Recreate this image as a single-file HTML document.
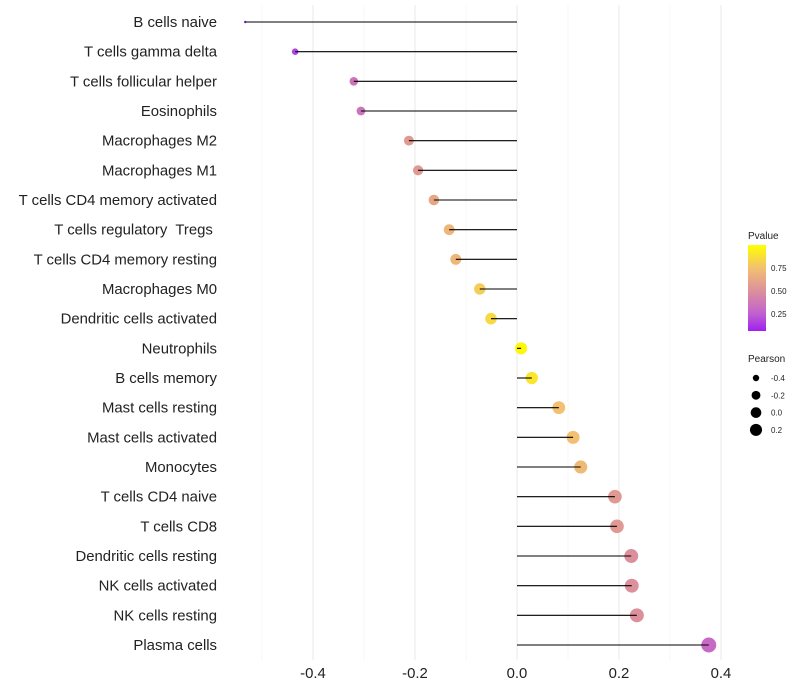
<!DOCTYPE html>
<html><head><meta charset="utf-8"><style>
body{margin:0;background:#fff;font-family:"Liberation Sans",sans-serif}
svg{display:block}
</style></head><body>
<svg id="chart" width="800" height="700"></svg>
<script>
const categories=["B cells naive","T cells gamma delta","T cells follicular helper","Eosinophils","Macrophages M2","Macrophages M1","T cells CD4 memory activated","T cells regulatory  Tregs ","T cells CD4 memory resting","Macrophages M0","Dendritic cells activated","Neutrophils","B cells memory","Mast cells resting","Mast cells activated","Monocytes","T cells CD4 naive","T cells CD8","Dendritic cells resting","NK cells activated","NK cells resting","Plasma cells"];
const pearson=[-0.533,-0.435,-0.320,-0.306,-0.212,-0.194,-0.163,-0.133,-0.120,-0.073,-0.051,0.008,0.029,0.082,0.110,0.125,0.192,0.196,0.224,0.225,0.235,0.376];
const pvalue=[0.05,0.15,0.35,0.35,0.55,0.55,0.62,0.7,0.7,0.8,0.85,0.97,0.9,0.75,0.75,0.72,0.55,0.55,0.5,0.5,0.5,0.3];
const xTicks=[-0.4,-0.2,0.0,0.2,0.4];
const xMinor=[-0.5,-0.3,-0.1,0.1,0.3];
const legendP=[0.25,0.50,0.75];
const legendPearson=[-0.4,-0.2,0.0,0.2];
const NS="http://www.w3.org/2000/svg";
const svg=document.getElementById('chart');
const X=v=>517+v*510;
const Y=i=>22+i*29.667;
const vmin=Math.min(...pearson),vmax=Math.max(...pearson);
const R=v=>{const t=Math.max(0,Math.min(1,(v-vmin)/(vmax-vmin)));return 1.25*(1+5*Math.sqrt(t));};
const stops=[[0,[160,32,240]],[0.25,[192,96,208]],[0.5,[220,144,156]],[0.75,[242,192,112]],[1,[255,255,0]]];
function col(p){for(let k=1;k<stops.length;k++){if(p<=stops[k][0]||k==stops.length-1){const a=stops[k-1],b=stops[k];const t=Math.max(0,Math.min(1,(p-a[0])/(b[0]-a[0])));return 'rgb('+a[1].map((c,j)=>Math.round(c+(b[1][j]-c)*t)).join(',')+')';}}}
function el(t,a,txt){const e=document.createElementNS(NS,t);for(const k in a)e.setAttribute(k,a[k]);if(txt!=null)e.textContent=txt;svg.appendChild(e);return e;}
xMinor.forEach(v=>{const g=el('line',{x1:X(v),x2:X(v),y1:5,y2:660,stroke:'#f2f2f2','stroke-width':0.6});

});
xTicks.forEach(v=>{const g=el('line',{x1:X(v),x2:X(v),y1:5,y2:660,stroke:'#ebebeb','stroke-width':1.1});


const t=el('text',{x:X(v),y:678,'text-anchor':'middle','font-size':14.9,fill:'#222'},v.toFixed(1));

});
categories.forEach((c,i)=>{
const t=el('text',{x:217,y:Y(i)+5,'text-anchor':'end','font-size':14.9,fill:'#222',style:'white-space:pre'},c);


const p=el('circle',{cx:X(pearson[i]),cy:Y(i),r:R(pearson[i]),fill:col(pvalue[i])});


const l=el('line',{x1:X(0),x2:X(pearson[i]),y1:Y(i),y2:Y(i),stroke:'#000','stroke-width':1.1});


});
let t=el('text',{x:748,y:239,'font-size':10,fill:'#222'},'Pvalue');


const defs=el('defs',{});
const lg=document.createElementNS(NS,'linearGradient');lg.setAttribute('id','pg');lg.setAttribute('x1','0');lg.setAttribute('y1','1');lg.setAttribute('x2','0');lg.setAttribute('y2','0');
defs.appendChild(lg);
const p0=0.065,p1=1.0;
stops.forEach(s=>{const st=document.createElementNS(NS,'stop');st.setAttribute('offset',Math.max(0,(s[0]-p0)/(p1-p0)));st.setAttribute('stop-color',col(s[0]));lg.appendChild(st);});
const bar=el('rect',{x:748,y:245,width:18,height:86,fill:'url(#pg)'});


const PY=p=>331-(p-p0)/(p1-p0)*86;
legendP.forEach(p=>{const tt=el('text',{x:771,y:PY(p)+3,'font-size':8,fill:'#222'},p.toFixed(2));

});
t=el('text',{x:748,y:362,'font-size':10,fill:'#222'},'Pearson');


legendPearson.forEach((v,k)=>{const y=378+k*17.3;
const c=el('circle',{cx:756,cy:y,r:R(v)*0.88,fill:'#000'});


const tt=el('text',{x:771,y:y+3,'font-size':8,fill:'#222'},v.toFixed(1));

});
</script>
</body></html>
